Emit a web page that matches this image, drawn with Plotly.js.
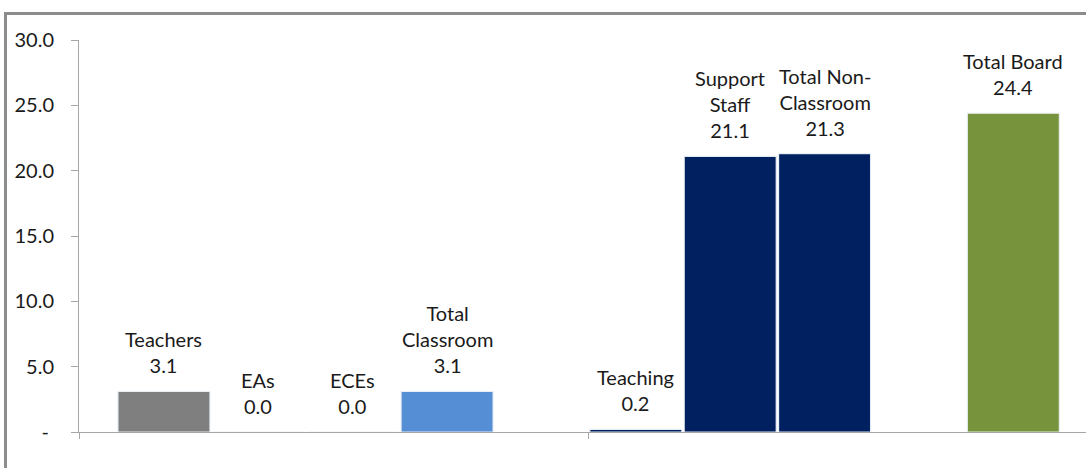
<!DOCTYPE html>
<html>
<head>
<meta charset="utf-8">
<script src="https://cdn.plot.ly/plotly-3.0.1.min.js"></script>
<style>
  html, body { margin: 0; padding: 0; background: #ffffff; overflow: hidden; }
  #frame { position: absolute; left: 4px; top: 12px; width: 1120px; height: 520px;
           border: 3px solid #8c8c8c; background: #ffffff; }
  #chart { position: absolute; left: 0; top: 0; width: 1086px; height: 468px; }
</style>
</head>
<body>
<div id="frame"></div>
<div id="chart"></div>
<script>
// ---- data ----
const groupA = ['Teachers', 'EAs', 'ECEs', 'Total Classroom'];
const groupB = ['Teaching', 'Support Staff', 'Total Non-Classroom'];
const groupC = ['Total Board'];
const labelsA = ['Teachers', 'EAs', 'ECEs', 'Total<br>Classroom'];
const labelsB = ['Teaching', 'Support<br>Staff', 'Total Non-<br>Classroom'];
const labelsC = ['Total Board'];
const valuesA = [3.1, 0.0, 0.0, 3.1];
const valuesB = [0.2, 21.1, 21.3];
const valuesC = [24.4];
const yTickVals = [0, 5, 10, 15, 20, 25, 30];
const yTickText = ['-\u00a0', '5.0', '10.0', '15.0', '20.0', '25.0', '30.0'];

// ---- build ----
const groups = [
  {names: groupA, labels: labelsA, values: valuesA,
   colors: ['#7f7f7f', '#7f7f7f', '#7f7f7f', '#558ed5']},
  {names: groupB, labels: labelsB, values: valuesB,
   colors: ['#002060', '#002060', '#002060']},
  {names: groupC, labels: labelsC, values: valuesC,
   colors: ['#77933c']}
];

const xs = [], ys = [], cols = [], names = [], annos = [];
let pos = 0;
groups.forEach((g, gi) => {
  g.values.forEach((v, i) => {
    xs.push(pos); ys.push(v); cols.push(g.colors[i]); names.push(g.names[i]);
    annos.push({
      x: pos, y: v, xref: 'x', yref: 'y',
      text: g.labels[i] + '<br>' + v.toFixed(1),
      showarrow: false, yanchor: 'bottom', yshift: 12,
      font: {family: 'Lato, "Open Sans", sans-serif', size: 20, color: '#1a1a1a'}
    });
    pos += 1;
  });
  pos += 1; // gap slot between groups
});

const trace = {
  type: 'bar', x: xs, y: ys, text: names, hoverinfo: 'text+y',
  width: 0.975,
  marker: {color: cols, line: {color: 'rgba(235,240,245,0.95)', width: 1.2}},
  textposition: 'none'
};

const layout = {
  width: 1086, height: 468,
  margin: {l: 79, r: 0, t: 40, b: 36, pad: 0},
  paper_bgcolor: 'rgba(0,0,0,0)', plot_bgcolor: 'rgba(0,0,0,0)',
  showlegend: false,
  font: {family: 'Lato, "Open Sans", sans-serif', size: 20, color: '#1a1a1a'},
  xaxis: {
    range: [-0.9, 9.77], showgrid: false, zeroline: false,
    showline: true, linecolor: '#a6a6a6', linewidth: 1,
    tickmode: 'array', tickvals: [-0.9, 4.5], ticktext: ['', ''],
    ticks: 'outside', ticklen: 6, tickcolor: '#a6a6a6', showticklabels: false
  },
  yaxis: {
    range: [0, 30], showgrid: false, zeroline: false,
    showline: true, linecolor: '#a6a6a6', linewidth: 1,
    tickmode: 'array', tickvals: yTickVals, ticktext: yTickText,
    ticks: 'outside', ticklen: 7, tickcolor: '#a6a6a6',
    ticklabelstandoff: 13,
    tickfont: {family: 'Lato, "Open Sans", sans-serif', size: 20, color: '#1a1a1a'}
  },
  annotations: annos
};

Plotly.newPlot('chart', [trace], layout, {displayModeBar: false, staticPlot: true});
</script>
</body>
</html>
